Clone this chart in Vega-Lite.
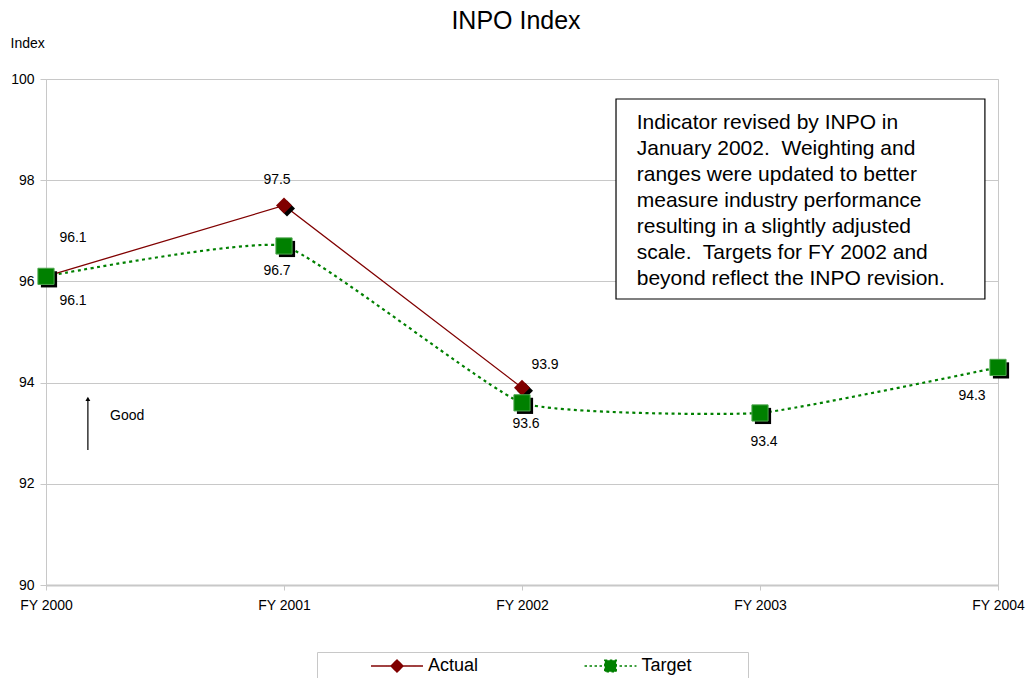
{
  "$schema": "https://vega.github.io/schema/vega-lite/v6.json",
  "width": 952,
  "height": 506,
  "autosize": {"type": "none"},
  "padding": {"left": 46, "top": 79, "right": 37, "bottom": 93},
  "background": "white",
  "title": {"text": "INPO Index", "fontSize": 25, "fontWeight": "normal", "font": "Liberation Sans", "color": "#000", "anchor": "middle", "baseline": "alphabetic", "offset": -18, "dx": -6},
  "config": {"font": "Liberation Sans", "view": {"stroke": "#c8c8c8", "strokeWidth": 1}},
  "data": {"values": [
    {"series": "Actual", "year": 2000, "value": 96.1},
    {"series": "Actual", "year": 2001, "value": 97.5},
    {"series": "Actual", "year": 2002, "value": 93.9},
    {"series": "Target", "year": 2000, "value": 96.1},
    {"series": "Target", "year": 2001, "value": 96.7},
    {"series": "Target", "year": 2002, "value": 93.6},
    {"series": "Target", "year": 2003, "value": 93.4},
    {"series": "Target", "year": 2004, "value": 94.3}
  ]},
  "layer": [
    {
      "encoding": {
        "x": {"field": "year", "type": "quantitative", "scale": {"domain": [2000, 2004], "nice": false, "zero": false},
          "axis": {"title": null, "values": [2000, 2001, 2002, 2003, 2004], "labelExpr": "'FY ' + datum.value", "grid": false, "tickSize": 5, "tickColor": "#c8c8c8", "domainColor": "#c8c8c8", "domainWidth": 2, "labelFontSize": 14, "labelColor": "#000", "labelPadding": 8, "labelFlush": false, "labelOverlap": false}},
        "y": {"field": "value", "type": "quantitative", "scale": {"domain": [90, 100], "nice": false, "zero": false},
          "axis": {"title": "Index", "values": [90, 92, 94, 96, 98, 100], "grid": true, "gridColor": "#c8c8c8", "tickSize": 6, "tickColor": "#c8c8c8", "domainColor": "#c8c8c8", "labelFontSize": 14, "labelColor": "#000", "labelPadding": 6, "titleAngle": 0, "titleX": -36, "titleY": -32, "titleAlign": "left", "titleBaseline": "alphabetic", "titleFontSize": 14, "titleFontWeight": "normal", "titleColor": "#000"}}
      },
      "layer": [
        {"transform": [{"filter": "datum.series == 'Actual'"}],
         "mark": {"type": "line", "strokeWidth": 1.3},
         "encoding": {"color": {"field": "series", "type": "nominal", "scale": {"domain": ["Actual", "Target"], "range": ["#800000", "#008000"]},
           "legend": {"title": null, "orient": "none", "legendX": 271, "legendY": 573, "direction": "horizontal", "fillColor": "white", "strokeColor": "#c8c8c8", "padding": 5, "labelFontSize": 18, "labelColor": "#000", "labelFont": "Liberation Sans", "symbolOffset": 66, "labelOffset": 22, "columnPadding": 56.5, "symbolSize": 144, "symbolStrokeWidth": 1.5,
             "encode": {"symbols": {"update": {
               "shape": {"signal": "datum.value === 'Actual' ? 'M-4.33,0L4.33,0M0,-1L1,0L0,1L-1,0Z' : 'M-4.33,0L4.33,0M-0.95,-0.95L0.95,-0.95L0.95,0.95L-0.95,0.95ZM21.5,0L21.5,0'"},
               "fill": {"signal": "datum.value === 'Actual' ? '#800000' : '#008000'"},
               "stroke": {"signal": "datum.value === 'Actual' ? '#800000' : '#008000'"},
               "strokeDash": {"signal": "datum.value === 'Actual' ? [1, 0] : [2.5, 2.5]"},
               "opacity": {"value": 1},
               "fillOpacity": {"value": 1}
             }}}}}}},
        {"transform": [{"filter": "datum.series == 'Target'"}],
         "mark": {"type": "line", "color": "#008000", "strokeWidth": 2.2, "strokeDash": [3, 3.5], "interpolate": "cardinal", "tension": 0.6}},
        {"transform": [{"filter": "datum.series == 'Actual'"}],
         "mark": {"type": "point", "shape": "diamond", "size": 256, "filled": true, "color": "#000", "opacity": 1, "xOffset": 3, "yOffset": 3}},
        {"transform": [{"filter": "datum.series == 'Actual'"}],
         "mark": {"type": "point", "shape": "diamond", "size": 256, "filled": true, "color": "#800000", "opacity": 1}},
        {"transform": [{"filter": "datum.series == 'Target'"}],
         "mark": {"type": "point", "shape": "square", "size": 262, "filled": true, "color": "#000", "opacity": 1, "xOffset": 3, "yOffset": 3}},
        {"transform": [{"filter": "datum.series == 'Target'"}],
         "mark": {"type": "point", "shape": "square", "size": 262, "filled": true, "color": "#008000", "stroke": "#4da64d", "strokeWidth": 1, "opacity": 1}},
        {"transform": [{"filter": "datum.series == 'Actual' && datum.year == 2000"}],
         "mark": {"type": "text", "dx": 27, "dy": -38, "fontSize": 14, "color": "#000"},
         "encoding": {"text": {"field": "value", "type": "quantitative", "format": ".1f"}}},
        {"transform": [{"filter": "datum.series == 'Actual' && datum.year == 2001"}],
         "mark": {"type": "text", "dx": -7, "dy": -26, "fontSize": 14, "color": "#000"},
         "encoding": {"text": {"field": "value", "type": "quantitative", "format": ".1f"}}},
        {"transform": [{"filter": "datum.series == 'Actual' && datum.year == 2002"}],
         "mark": {"type": "text", "dx": 23, "dy": -23, "fontSize": 14, "color": "#000"},
         "encoding": {"text": {"field": "value", "type": "quantitative", "format": ".1f"}}},
        {"transform": [{"filter": "datum.series == 'Target' && datum.year == 2000"}],
         "mark": {"type": "text", "dx": 27, "dy": 25, "fontSize": 14, "color": "#000"},
         "encoding": {"text": {"field": "value", "type": "quantitative", "format": ".1f"}}},
        {"transform": [{"filter": "datum.series == 'Target' && datum.year == 2001"}],
         "mark": {"type": "text", "dx": -7, "dy": 25, "fontSize": 14, "color": "#000"},
         "encoding": {"text": {"field": "value", "type": "quantitative", "format": ".1f"}}},
        {"transform": [{"filter": "datum.series == 'Target' && datum.year == 2002"}],
         "mark": {"type": "text", "dx": 4, "dy": 21, "fontSize": 14, "color": "#000"},
         "encoding": {"text": {"field": "value", "type": "quantitative", "format": ".1f"}}},
        {"transform": [{"filter": "datum.series == 'Target' && datum.year == 2003"}],
         "mark": {"type": "text", "dx": 4, "dy": 29, "fontSize": 14, "color": "#000"},
         "encoding": {"text": {"field": "value", "type": "quantitative", "format": ".1f"}}},
        {"transform": [{"filter": "datum.series == 'Target' && datum.year == 2004"}],
         "mark": {"type": "text", "dx": -26, "dy": 29, "fontSize": 14, "color": "#000"},
         "encoding": {"text": {"field": "value", "type": "quantitative", "format": ".1f"}}}
      ]
    },
    {"data": {"values": [{}]},
     "mark": {"type": "rect", "fill": "white", "stroke": "#000", "strokeWidth": 1.2},
     "encoding": {"x": {"datum": 2002.395}, "x2": {"datum": 2003.945}, "y": {"datum": 99.605}, "y2": {"datum": 95.652}}},
    {"data": {"values": [{}]},
     "mark": {"type": "text", "align": "left", "baseline": "alphabetic", "fontSize": 21, "lineHeight": 26, "color": "#000",
       "text": ["Indicator revised by INPO in", "January 2002.\u00a0 Weighting and", "ranges were updated to better", "measure industry performance", "resulting in a slightly adjusted", "scale.\u00a0 Targets for FY 2002 and", "beyond reflect the INPO revision."]},
     "encoding": {"x": {"datum": 2002.482}, "y": {"datum": 99.006}}},
    {"data": {"values": [{}]},
     "mark": {"type": "rule", "color": "#000", "strokeWidth": 1.2},
     "encoding": {"x": {"datum": 2000.176}, "y": {"datum": 92.668}, "y2": {"datum": 93.66}}},
    {"data": {"values": [{}]},
     "mark": {"type": "point", "shape": "triangle-up", "size": 24, "filled": true, "color": "#000", "opacity": 1},
     "encoding": {"x": {"datum": 2000.176}, "y": {"datum": 93.676}}},
    {"data": {"values": [{}]},
     "mark": {"type": "text", "text": "Good", "align": "left", "baseline": "middle", "fontSize": 14, "color": "#000"},
     "encoding": {"x": {"datum": 2000.269}, "y": {"datum": 93.34}}}
  ]
}
